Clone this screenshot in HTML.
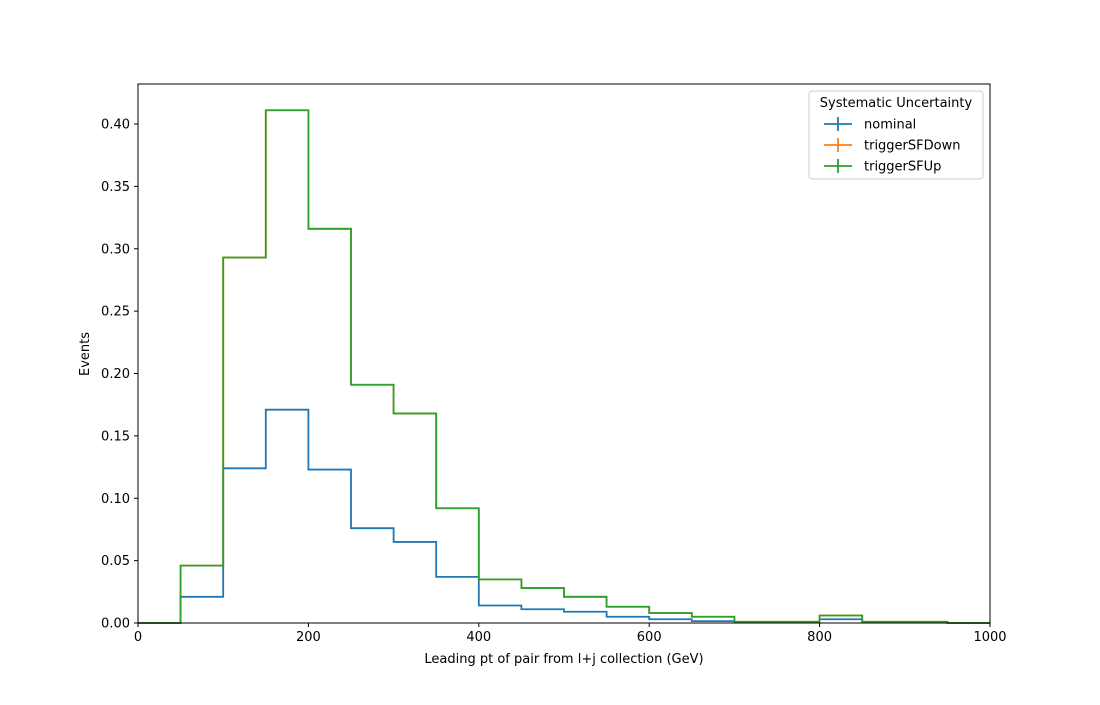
<!DOCTYPE html>
<html><head><meta charset="utf-8"><style>
body{margin:0;background:#fff;font-family:"Liberation Sans","DejaVu Sans",sans-serif;}
svg text{font-family:"DejaVu Sans","Liberation Sans",sans-serif;font-size:13px;}
</style></head><body>
<svg id="c" width="1100" height="700"></svg>
<script>
const binEdges=[0,50,100,150,200,250,300,350,400,450,500,550,600,650,700,750,800,850,900,950,1000];
const nominal=[0,0.021,0.124,0.171,0.123,0.076,0.065,0.037,0.014,0.011,0.009,0.005,0.003,0.0015,0.0005,0.0005,0.003,0.0005,0.0003,0];
const triggerSFDown=[0,0.046,0.293,0.411,0.316,0.191,0.168,0.092,0.035,0.028,0.021,0.013,0.008,0.005,0.001,0.001,0.006,0.001,0.001,0];
const triggerSFUp=[0,0.046,0.293,0.411,0.316,0.191,0.168,0.092,0.035,0.028,0.021,0.013,0.008,0.005,0.001,0.001,0.006,0.001,0.001,0];
const xTicks=[0,200,400,600,800,1000];
const yTicks=[0,0.05,0.10,0.15,0.20,0.25,0.30,0.35,0.40];
const L=138,R=990,T=84,B=623;
const xs=v=>L+(v-0)/1000*(R-L);
const ys=v=>B-v/0.05*62.375;
const svg=document.getElementById('c');
const NS='http://www.w3.org/2000/svg';
function mk(t,a,p){const e=document.createElementNS(NS,t);for(const k in a)e.setAttribute(k,a[k]);(p||svg).appendChild(e);return e;}
function step(vals,color,name){
  let d='M'+xs(binEdges[0])+','+ys(vals[0]);
  for(let i=0;i<vals.length;i++){d+=' L'+xs(binEdges[i])+','+ys(vals[i])+' L'+xs(binEdges[i+1])+','+ys(vals[i]);}
  const p=mk('path',{d:d,fill:'none',stroke:color,'stroke-width':1.8});
  
  
}
step(nominal,'#1f77b4','series-nominal');
step(triggerSFDown,'#ff7f0e','series-triggerSFDown');
step(triggerSFUp,'#2ca02c','series-triggerSFUp');
const fr=mk('rect',{x:L,y:T,width:R-L,height:B-T,fill:'none',stroke:'#000','stroke-width':1});


xTicks.forEach(v=>{
  mk('line',{x1:xs(v),x2:xs(v),y1:B,y2:B+4,stroke:'#000'});
  const t=mk('text',{x:xs(v),y:B+18,'text-anchor':'middle'});t.textContent=v;
  
  
});
yTicks.forEach(v=>{
  mk('line',{x1:L-4,x2:L,y1:ys(v),y2:ys(v),stroke:'#000'});
  const t=mk('text',{x:L-8,y:ys(v)+4.5,'text-anchor':'end'});t.textContent=v.toFixed(2);
  
  
});
let t=mk('text',{x:564,y:663,'text-anchor':'middle'});t.textContent='Leading pt of pair from l+j collection (GeV)';


t=mk('text',{x:89,y:354,'text-anchor':'middle',transform:'rotate(-90 89 354)'});t.textContent='Events';


const lg=mk('g',{});


mk('rect',{x:809,y:91,width:174,height:88,rx:3,fill:'#fff',stroke:'#ccc'},lg);
t=mk('text',{x:896,y:107,'text-anchor':'middle'},lg);t.textContent='Systematic Uncertainty';


[['nominal','#1f77b4'],['triggerSFDown','#ff7f0e'],['triggerSFUp','#2ca02c']].forEach((e,i)=>{
  const y=124+i*21;
  mk('line',{x1:824,x2:852,y1:y,y2:y,stroke:e[1],'stroke-width':1.8},lg);
  mk('line',{x1:838,x2:838,y1:y-7,y2:y+7,stroke:e[1],'stroke-width':1.8},lg);
  const tt=mk('text',{x:864,y:y+4.5},lg);tt.textContent=e[0];
  
  
});
</script>
</body></html>
